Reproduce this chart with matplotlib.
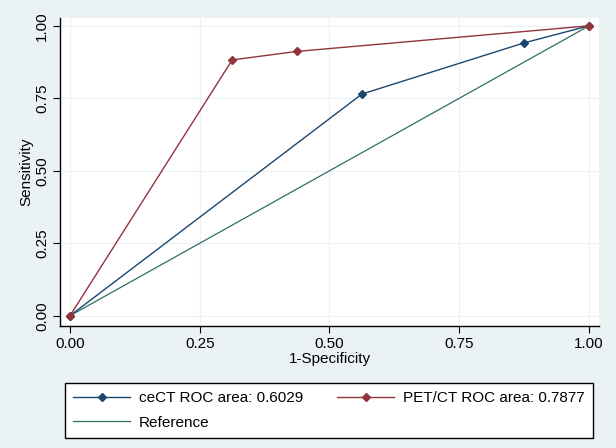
import matplotlib
matplotlib.use("Agg")
import matplotlib.pyplot as plt
from matplotlib.lines import Line2D

plt.rcParams["font.family"] = ["Liberation Sans", "DejaVu Sans"]

# ROC points
cect_fpr = [0.0, 0.5625, 0.875, 1.0]
cect_tpr = [0.0, 0.7647, 0.9412, 1.0]
pet_fpr = [0.0, 0.3125, 0.4375, 1.0]
pet_tpr = [0.0, 0.8824, 0.9118, 1.0]
ref_x = [0.0, 1.0]
ref_y = [0.0, 1.0]
ticks = [0.0, 0.25, 0.5, 0.75, 1.0]
tick_labels = ["0.00", "0.25", "0.50", "0.75", "1.00"]

NAVY = "#1a476f"
MAROON = "#90353b"
REF = "#2e6e66"
BG = "#eaf2f3"

fig = plt.figure(figsize=(6.16, 4.48), dpi=100, facecolor=BG)
ax = fig.add_axes([60 / 616, 1 - 326 / 448, 539 / 616, 308 / 448])
ax.set_facecolor("white")

for t in ticks:
    ax.axvline(t, color=BG, lw=0.9, zorder=0)
    ax.axhline(t, color=BG, lw=0.9, zorder=0)

ax.plot(ref_x, ref_y, color=REF, lw=0.9, zorder=2)
ax.plot(cect_fpr, cect_tpr, color=NAVY, lw=1.0, marker="D", markersize=4, zorder=3)
ax.plot(pet_fpr, pet_tpr, color=MAROON, lw=1.0, marker="D", markersize=4, zorder=4)

ax.set_xlim(-0.0193, 1.0193)
ax.set_ylim(-0.0355, 1.027)
ax.set_xticks(ticks)
ax.set_xticklabels(tick_labels)
ax.set_yticks(ticks)
ax.set_yticklabels(tick_labels, rotation=90, va="center")
ax.tick_params(direction="out", length=5, width=0.8, labelsize=11, pad=3)
for s in ["top", "right"]:
    ax.spines[s].set_visible(False)
for s in ["left", "bottom"]:
    ax.spines[s].set_linewidth(1.0)
    ax.spines[s].set_color("black")

ax.set_xlabel("1-Specificity", fontsize=11, labelpad=1)
ax.set_ylabel("Sensitivity", fontsize=11, labelpad=1)

h_cect = Line2D([], [], color=NAVY, lw=1.0, marker="D", markersize=4)
h_pet = Line2D([], [], color=MAROON, lw=1.0, marker="D", markersize=4)
h_ref = Line2D([], [], color=REF, lw=0.9)
leg = fig.legend([h_cect, h_ref, h_pet],
                 ["ceCT ROC area: 0.6029", "Reference", "PET/CT ROC area: 0.7877"],
                 ncol=2, loc="lower left", mode="expand",
                 bbox_to_anchor=(65 / 616, 1 - 438 / 448, 528 / 616, 59 / 448),
                 borderaxespad=0, fontsize=11, handlelength=3.7, fancybox=False,
                 framealpha=1, edgecolor="black", borderpad=0.55, labelspacing=0.68,
                 handletextpad=0.6, columnspacing=1.0)
leg.get_frame().set_linewidth(1.0)

fig.savefig("out.png", dpi=100, facecolor=BG)
